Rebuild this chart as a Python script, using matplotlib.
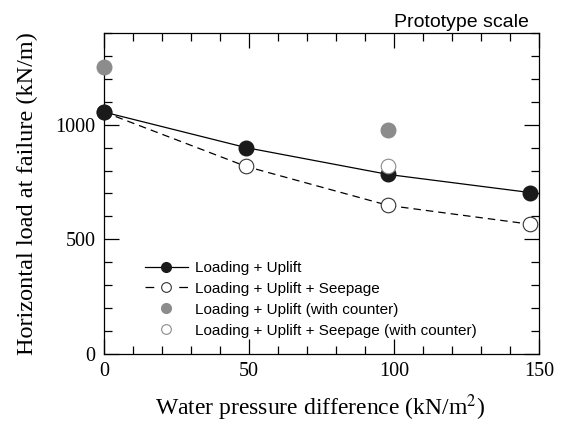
import matplotlib
matplotlib.use('Agg')
from matplotlib import pyplot as plt
from matplotlib.lines import Line2D
from matplotlib.ticker import MultipleLocator

# water pressure difference (kN/m2)
x = [0, 49, 98, 147]
uplift = [1055, 900, 783, 704]
seepage = [1055, 818, 648, 566]
x_counter = [0, 98]
uplift_counter = [1250, 978]
x_seep_counter = [98]
seepage_counter = [822]

labels = ['Loading + Uplift', 'Loading + Uplift + Seepage',
          'Loading + Uplift (with counter)', 'Loading + Uplift + Seepage (with counter)']

serif = ['Liberation Serif', 'DejaVu Serif']
sans = ['Liberation Sans', 'DejaVu Sans']
plt.rcParams['mathtext.fontset'] = 'stix'

fig = plt.figure(figsize=(5.62, 4.22), dpi=100)
ax = fig.add_axes([0.185, 0.161, 0.774, 0.761])

ms = 10.5
ax.plot(x, seepage, color='black', lw=0.9, dashes=(6, 4), marker='o', ms=ms,
        mfc='white', mec='#333333', mew=0.8, clip_on=False, zorder=3)
ax.plot(x, uplift, '-', color='black', lw=0.9, marker='o', ms=ms,
        mfc='#1a1a1a', mec='#1a1a1a', clip_on=False, zorder=4)
ax.plot(x_counter, uplift_counter, 'o', ms=ms, mfc='#8c8c8c', mec='#8c8c8c',
        clip_on=False, zorder=4)
ax.plot(x_seep_counter, seepage_counter, 'o', ms=ms, mfc='white', mec='#8a8a8a',
        mew=0.8, clip_on=False, zorder=4)

ax.set_xlim(0, 150)
ax.set_ylim(0, 1400)
ax.xaxis.set_major_locator(MultipleLocator(50))
ax.xaxis.set_minor_locator(MultipleLocator(10))
ax.yaxis.set_major_locator(MultipleLocator(500))
ax.yaxis.set_minor_locator(MultipleLocator(100))
ax.tick_params(which='both', direction='in', top=True, right=True, width=0.9)
ax.tick_params(which='major', length=11, pad=6)
ax.tick_params(which='minor', length=6)
for s in ax.spines.values():
    s.set_linewidth(0.9)
for lab in ax.get_xticklabels() + ax.get_yticklabels():
    lab.set_family(serif)
    lab.set_fontsize(14.5)

ax.set_xlabel('Water pressure difference (kN/m$^2$)', family=serif, fontsize=17,
              va='baseline')
ax.xaxis.set_label_coords(0.497, -0.190)
ax.set_ylabel('Horizontal load at failure (kN/m)', family=serif, fontsize=17.5)
ax.yaxis.set_label_coords(-0.152, 0.50)

# legend handles drawn like the original key
h = [Line2D([], [], color='black', lw=0.9, marker='o', ms=7, mfc='#1a1a1a', mec='#1a1a1a'),
     Line2D([], [], color='black', lw=0.9, dashes=(7, 20), marker='o', ms=7,
            mfc='white', mec='#333333', mew=0.8),
     Line2D([], [], ls='none', marker='o', ms=7, mfc='#8c8c8c', mec='#8c8c8c'),
     Line2D([], [], ls='none', marker='o', ms=7, mfc='white', mec='#8a8a8a', mew=0.8)]
ax.legend(h, labels, loc='upper left', bbox_to_anchor=(0.094, 0.290), frameon=False,
          prop={'family': sans, 'size': 11}, handlelength=2.8, borderpad=0,
          borderaxespad=0, labelspacing=0.45, handletextpad=0.45)

fig.text(0.941, 0.936, 'Prototype scale', ha='right', va='baseline',
         family=sans, fontsize=14)

fig.savefig('out.png', dpi=100)
